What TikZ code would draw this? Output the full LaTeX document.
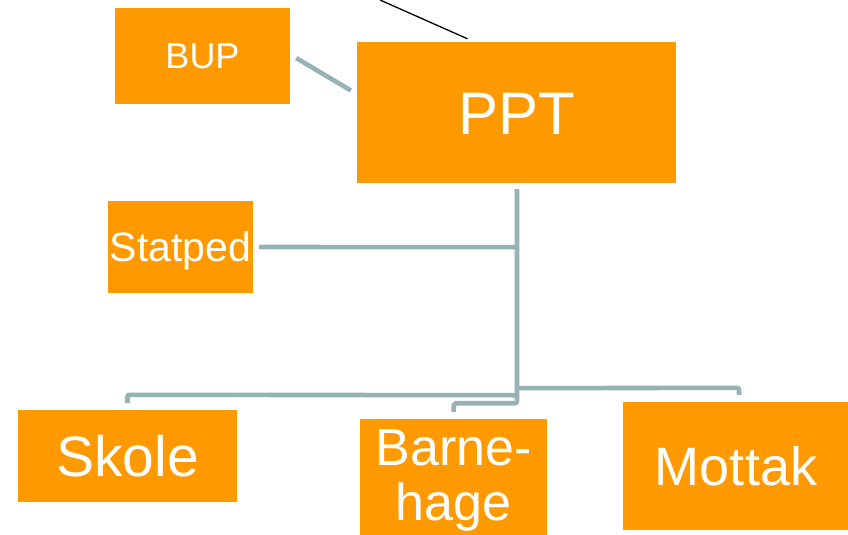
\documentclass[tikz,border=0pt]{standalone}
\usepackage{fontspec}
\setmainfont{Liberation Sans}
\usetikzlibrary{calc}
\definecolor{boxorange}{RGB}{255,153,0}
\definecolor{linegrey}{RGB}{150,178,181}
\tikzset{
  orgbox/.style={fill=boxorange, draw=none, inner sep=0pt, text=white, align=center},
  conn/.style={draw=linegrey, line width=4.6pt, rounded corners=2pt},
}
\begin{document}
\begin{tikzpicture}[x=1pt,y=-1pt]
\useasboundingbox (0,0) rectangle (848,535);
% boxes
\node[orgbox, minimum width=175pt, minimum height=96pt, font=\fontsize{36}{40}\selectfont, text height=25.8pt, text depth=0pt] (bup) at (202.5,56) {BUP};
\node[orgbox, minimum width=319pt, minimum height=141pt, font=\fontsize{60}{66}\selectfont, text height=43pt, text depth=0pt] (ppt) at (516.5,112.5) {PPT};
\node[orgbox, minimum width=145pt, minimum height=92pt, font=\fontsize{41}{46}\selectfont, text height=29.4pt, text depth=0pt] (statped) at (180.5,247) {Statped};
\node[orgbox, minimum width=219pt, minimum height=92pt, font=\fontsize{57}{60}\selectfont, text height=40.8pt, text depth=0pt] (skole) at (127.5,456) {Skole};
\node[orgbox, minimum width=187pt, minimum height=116pt] (barne) at (453.5,477) {};
\node[text=white, font=\fontsize{52}{55}\selectfont, align=center, inner sep=0pt, anchor=base] (barnetxt) at (453.5,520) {Barne-\\hage};
\node[orgbox, minimum width=226pt, minimum height=128pt, font=\fontsize{54}{60}\selectfont, text height=38.7pt, text depth=0pt] (mottak) at (736,466) {Mottak};
% connectors
\coordinate (junc) at ($(ppt.south)+(0.5,220)$);
\draw[conn] ($(bup.east)+(6,2)$) -- ($(ppt.west)+(-6,-22)$);
\coordinate (topend) at (380,0);
\draw[black, line width=1.3pt] (topend) -- ($(ppt.north)+(-49,-3)$);
\draw[conn] ($(ppt.south)+(0.5,6)$) -- (junc) -- ($(junc)+(-63,0)$) -- ($(barne.north)+(0,-7)$);
\draw[conn] ($(statped.east)+(6,0)$) -- ($(ppt.south)+(0.5,64)$);
\draw[conn] ($(ppt.south)+(0.5,212)$) -- ($(skole.north)+(0,-15)$) -- ($(skole.north)+(0,-7)$);
\draw[conn] ($(ppt.south)+(0.5,205)$) -- ($(mottak.north)+(3,-14)$) -- ($(mottak.north)+(3,-7)$);
\end{tikzpicture}
\end{document}
